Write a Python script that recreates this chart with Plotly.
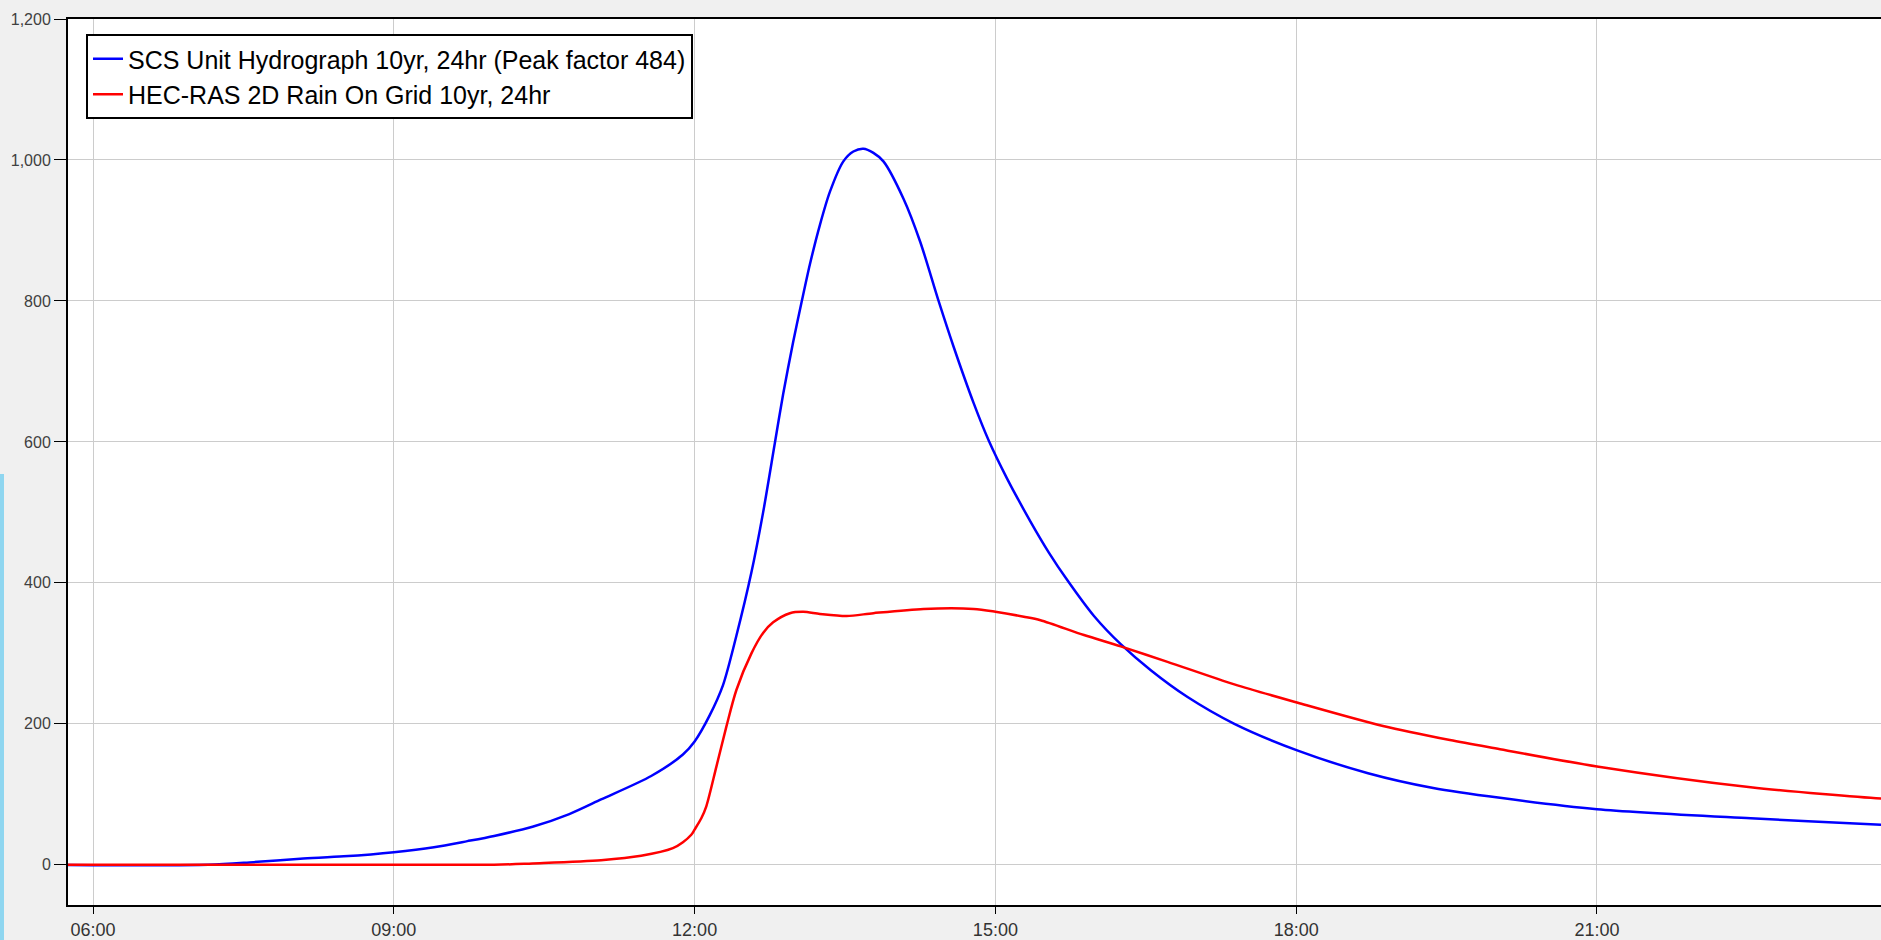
import plotly.graph_objects as go

DAY = "2024-01-01"

# SCS unit hydrograph, 10yr 24hr storm (cfs)
scs_time = ["05:30", "07:09", "07:36", "08:04", "08:30", "09:00", "09:24", "09:44",
            "10:00", "10:23", "10:45", "11:04", "11:34", "11:53", "12:00", "12:09", "12:17",
            "12:25", "12:34", "12:41", "12:48", "12:53", "12:59", "13:04", "13:09",
            "13:15", "13:21", "13:29", "13:35", "13:41", "13:47", "13:53", "14:05",
            "14:15", "14:26", "14:35", "14:47", "14:56", "15:07", "15:21", "15:32",
            "15:43", "15:59", "16:15", "16:33", "16:55", "17:23", "18:01", "18:43",
            "19:22", "20:02", "21:00", "22:32", "23:50", "23:59"]
scs_flow = [0, 0, 3.8, 8.5, 12, 18, 25, 33.6,
            41, 54, 72, 92.7, 126, 156.5, 175, 212, 255,
            325, 415, 500, 598, 668, 742, 798, 852,
            908, 955, 998, 1012, 1016, 1010, 998, 945,
            884, 800, 735, 655, 602, 548, 487, 443,
            404, 353, 313, 276, 238, 200, 162, 130,
            109, 95, 79, 66, 57, 56]

# HEC-RAS 2D rain-on-grid, 10yr 24hr storm (cfs)
ras_time = ["05:30", "10:00", "10:23", "11:04", "11:28", "11:47", "11:53",
            "11:58", "12:00", "12:04", "12:07", "12:13", "12:19", "12:25", "12:34",
            "12:41", "12:47", "12:57", "13:05", "13:15", "13:31", "13:47", "14:17",
            "14:47", "15:00", "15:17", "15:27", "15:53", "16:15", "16:43", "17:23",
            "18:01", "18:52", "19:32", "20:02", "21:00", "22:32", "23:50", "23:59"]
ras_flow = [0, 0, 2, 6.6, 12.8, 23.6, 32,
            42.6, 50, 66, 83, 139, 196, 248, 300,
            329, 344, 357, 359, 356, 353, 357, 363,
            363, 359, 352, 347, 326, 310, 288, 256,
            230, 197, 177, 164, 139.5, 110, 94, 93]

y_ticks = [0, 200, 400, 600, 800, 1000, 1200]

FONT = "Liberation Sans, Arial, sans-serif"


def stamp(t):
    return f"{DAY} {t}"


fig = go.Figure()
fig.add_trace(go.Scatter(
    x=[stamp(t) for t in scs_time], y=scs_flow, mode="lines",
    name="SCS Unit Hydrograph 10yr, 24hr (Peak factor 484)",
    line=dict(color="#0000ff", width=2.5, shape="spline", smoothing=0.8),
))
fig.add_trace(go.Scatter(
    x=[stamp(t) for t in ras_time], y=ras_flow, mode="lines",
    name="HEC-RAS 2D Rain On Grid 10yr, 24hr",
    line=dict(color="#ff0000", width=2.5, shape="spline", smoothing=0.8),
))

W, H = 1881, 940
ML, MT, MB, MR = 68, 19, 35, 0
PW, PH = W - ML - MR, H - MT - MB

fig.update_layout(
    width=W, height=H,
    margin=dict(l=ML, r=MR, t=MT, b=MB, pad=0),
    paper_bgcolor="#f0f0f0",
    plot_bgcolor="#ffffff",
    font=dict(family=FONT, size=18, color="#333333"),
    showlegend=True,
    legend=dict(
        x=(86 - ML) / PW, y=1 - (34 - MT) / PH,
        xanchor="left", yanchor="top",
        bgcolor="#ffffff", bordercolor="#000000", borderwidth=2,
        font=dict(family=FONT, size=25, color="#000000"),
        itemwidth=30, tracegroupgap=0,
    ),
    xaxis=dict(
        type="date",
        range=[stamp("05:45"), stamp("23:50")],
        tick0=stamp("00:00"), dtick=3 * 3600 * 1000,
        tickformat="%H:%M",
        showgrid=True, gridcolor="#cccccc", gridwidth=1,
        showline=True, linecolor="#000000", linewidth=2, mirror=True,
        ticks="outside", ticklen=7, tickcolor="#000000", tickwidth=1,
        tickfont=dict(family=FONT, size=18, color="#333333"),
        zeroline=False, automargin=False,
    ),
    yaxis=dict(
        range=[-57, 1200],
        tickvals=y_ticks, tickformat=",d",
        showgrid=True, gridcolor="#cccccc", gridwidth=1,
        showline=True, linecolor="#000000", linewidth=2,
        ticks="outside", ticklen=12, tickcolor="#000000", tickwidth=1,
        tickfont=dict(family=FONT, size=16, color="#404040"),
        zeroline=False, automargin=False,
    ),
    shapes=[dict(
        type="rect", xref="paper", yref="paper",
        x0=-ML / PW, x1=(4 - ML) / PW,
        y0=-MB / PH, y1=(MT + PH - 474) / PH,
        fillcolor="#8fd6f0", line=dict(width=0), layer="above",
    )],
)

fig.write_html("out.html")
